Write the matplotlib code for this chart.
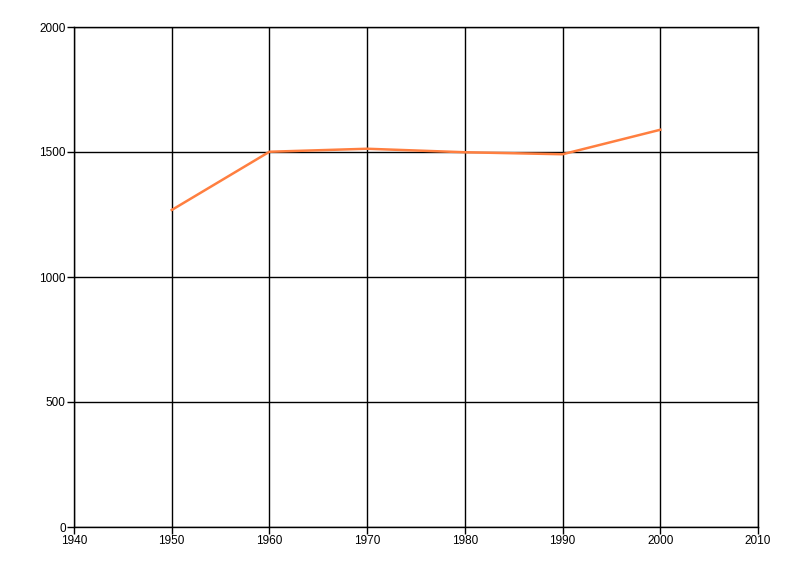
import matplotlib
matplotlib.use('Agg')
import matplotlib.pyplot as plt

years = [1950, 1960, 1970, 1980, 1990, 2000]
values = [1268, 1501, 1513, 1499, 1491, 1589]
x_ticks = [1940, 1950, 1960, 1970, 1980, 1990, 2000, 2010]
y_ticks = [0, 500, 1000, 1500, 2000]

fig = plt.figure(figsize=(8, 5.76), dpi=100)
ax = fig.add_axes([74/800, 49/576, 684/800, 500/576])

ax.plot(years, values, color='#FF7F40', linewidth=1.8, zorder=3)

ax.set_xlim(1940, 2010)
ax.set_ylim(0, 2000)
ax.set_xticks(x_ticks)
ax.set_yticks(y_ticks)
ax.grid(True, color='black', linewidth=1)
ax.set_axisbelow(True)
for s in ax.spines.values():
    s.set_color('black')
    s.set_linewidth(1)
ax.tick_params(direction='out', length=5, width=1, labelsize=8.5, pad=1)
for lab in ax.get_xticklabels() + ax.get_yticklabels():
    lab.set_fontfamily('Liberation Sans')

fig.savefig('out.png', dpi=100)
